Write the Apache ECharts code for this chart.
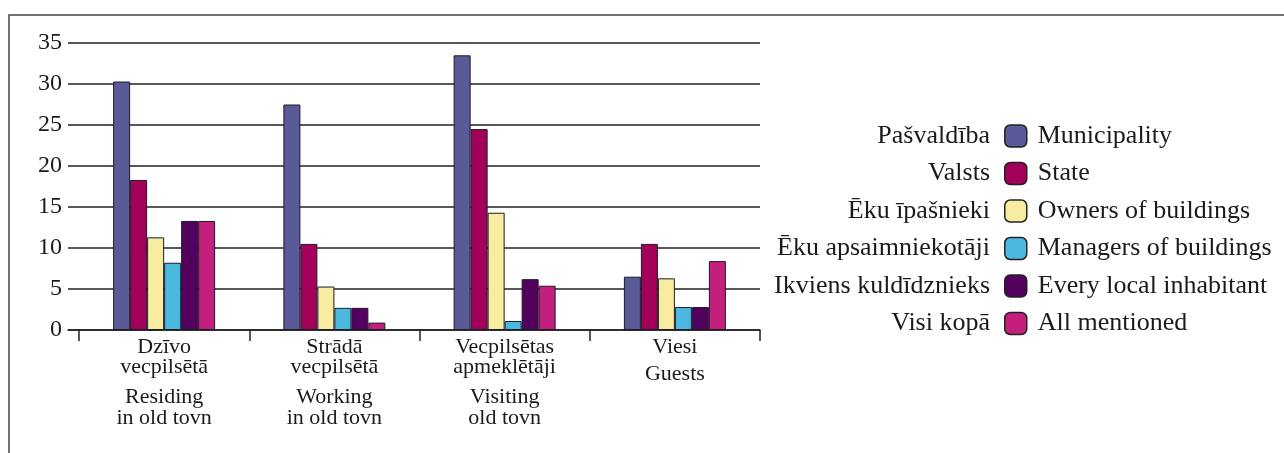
<!DOCTYPE html>
<html>
<head>
<meta charset="utf-8">
<script src="https://cdn.jsdelivr.net/npm/echarts@6/dist/echarts.min.js"></script>
<style>
html,body{margin:0;padding:0;background:#fff;}
#chart{width:1284px;height:453px;}
</style>
</head>
<body>
<div id="chart"></div>
<script>
const categoriesLV = ['Dzīvo\nvecpilsētā', 'Strādā\nvecpilsētā', 'Vecpilsētas\napmeklētāji', 'Viesi'];
const categoriesEN = ['Residing\nin old tovn', 'Working\nin old tovn', 'Visiting\nold tovn', 'Guests'];
const seriesLV = ['Pašvaldība', 'Valsts', 'Ēku īpašnieki', 'Ēku apsaimniekotāji', 'Ikviens kuldīdznieks', 'Visi kopā'];
const seriesEN = ['Municipality', 'State', 'Owners of buildings', 'Managers of buildings', 'Every local inhabitant', 'All mentioned'];
const municipality = [30.3, 27.5, 33.5, 6.5];
const state = [18.3, 10.5, 24.5, 10.5];
const owners = [11.3, 5.3, 14.3, 6.3];
const managers = [8.2, 2.7, 1.1, 2.8];
const everyone = [13.3, 2.7, 6.2, 2.8];
const allMentioned = [13.3, 0.9, 5.4, 8.4];
const yTicks = [0, 5, 10, 15, 20, 25, 30, 35];

const values = [municipality, state, owners, managers, everyone, allMentioned];
const colors = ['#5b5a99', '#a3005a', '#f8eca0', '#4bb8e0', '#54005e', '#c41f7c'];
const FONT = 'Liberation Serif';

const categories = categoriesLV.map((lv, i) => lv + '|' + categoriesEN[i]);

const chart = echarts.init(document.getElementById('chart'), null, {renderer: 'canvas'});
chart.setOption({
  backgroundColor: '#fff',
  animation: false,
  graphic: [{
    type: 'rect', shape: {x: 9, y: 15, width: 1400, height: 600},
    style: {fill: 'none', stroke: '#444', lineWidth: 1.5}, silent: true
  }],
  grid: [
    {left: 68, right: 524, top: 43, bottom: 123},
    {left: 79, right: 524, top: 43, bottom: 123}
  ],
  xAxis: [
    {gridIndex: 0, type: 'category', data: ['a'], axisLine: {show: true, lineStyle: {color: '#222', width: 1.5}},
     axisTick: {show: false}, axisLabel: {show: false}},
    {gridIndex: 1, type: 'category', data: categories, boundaryGap: true,
     axisLine: {show: false},
     axisTick: {show: true, length: 11, inside: false, lineStyle: {color: '#222', width: 1.5}},
     axisLabel: {
       margin: 7, interval: 0, color: '#1a1a1a', fontFamily: FONT, fontSize: 22,
       formatter: function (v) {
         const parts = v.split('|');
         const lv = parts[0].split('\n');
         const en = parts[1].split('\n');
         const out = [];
         lv.forEach(l => out.push('{a|' + l + '}'));
         en.forEach((l, i) => out.push((i === 0 ? (lv.length > 1 ? '{c|' : '{d|') : '{a|') + l + '}'));
         return out.join('\n');
       },
       rich: {
         a: {fontFamily: FONT, fontSize: 22, lineHeight: 20, color: '#1a1a1a'},
         c: {fontFamily: FONT, fontSize: 22, lineHeight: 31, verticalAlign: 'bottom', color: '#1a1a1a'},
         d: {fontFamily: FONT, fontSize: 22, lineHeight: 28, verticalAlign: 'bottom', color: '#1a1a1a'}
       }
     }}
  ],
  yAxis: [
    {gridIndex: 0, type: 'value', min: 0, max: 35, interval: 5,
     axisLine: {show: false}, axisTick: {show: false},
     axisLabel: {margin: 6, color: '#1a1a1a', fontFamily: FONT, fontSize: 24,
       formatter: v => yTicks.indexOf(v) >= 0 ? String(v) : ''},
     splitLine: {show: true, lineStyle: {color: '#222', width: 1.5}}},
    {gridIndex: 1, type: 'value', min: 0, max: 35, interval: 5, show: false, splitLine: {show: false}}
  ],
  legend: [
    {
      data: seriesEN, orient: 'vertical', align: 'left', left: 1004, top: 123, padding: 0,
      icon: 'roundRect', itemWidth: 22, itemHeight: 22, itemGap: 11.5,
      itemStyle: {borderColor: '#222', borderWidth: 1.5},
      textStyle: {fontFamily: FONT, fontSize: 26, lineHeight: 26, color: '#1a1a1a', padding: [0, 0, 0, 6]},
      selectedMode: false
    },
    {
      data: seriesEN, orient: 'vertical', align: 'right', right: 280, top: 123, padding: 0,
      icon: 'rect', itemWidth: 9, itemHeight: 22, itemGap: 11.5,
      itemStyle: {color: 'rgba(0,0,0,0)', borderWidth: 0},
      formatter: name => seriesLV[seriesEN.indexOf(name)],
      textStyle: {fontFamily: FONT, fontSize: 26, lineHeight: 26, color: '#1a1a1a'},
      selectedMode: false
    }
  ],
  series: values.map((arr, i) => ({
    name: seriesEN[i], type: 'bar', xAxisIndex: 1, yAxisIndex: 1,
    data: arr, barWidth: 17, barGap: '0%',
    itemStyle: {color: colors[i], borderColor: '#1c1a2a', borderWidth: 1}
  }))
});
</script>
</body>
</html>
